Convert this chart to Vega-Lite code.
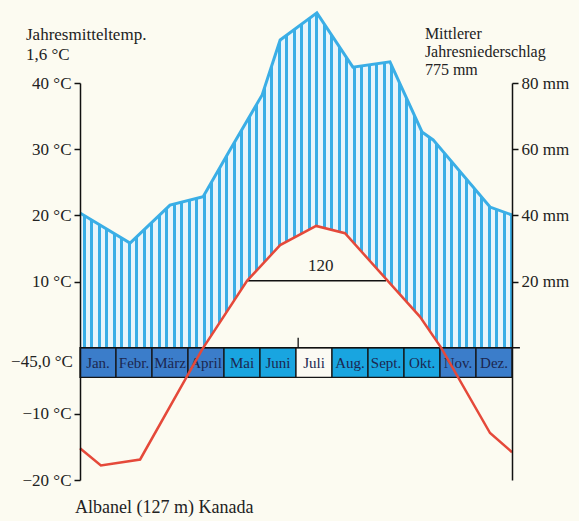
{
"$schema":"https://vega.github.io/schema/vega-lite/v6.json",
"width":432,"height":397,
"autosize":"none",
"padding":{"left":80,"top":83,"right":67,"bottom":41},
"background":"#fcfbf1",
"config":{"view":{"stroke":null},"font":"Liberation Serif","text":{"font":"Liberation Serif","color":"#222"}},
"datasets":{
"temp":[{"m":0,"t":-15.2},{"m":0.58,"t":-17.8},{"m":1.67,"t":-16.9},{"m":3.39,"t":-0.3},{"m":4.64,"t":10.1},{"m":5.56,"t":15.5},{"m":6.56,"t":18.4},{"m":7.36,"t":17.3},{"m":9.44,"t":4.7},{"m":10.03,"t":0},{"m":11.39,"t":-12.9},{"m":12,"t":-15.8}],
"precip":[{"m":0,"p":40.7},{"m":1.39,"p":31.6},{"m":2.5,"p":43.1},{"m":3.42,"p":45.6},{"m":4.17,"p":59.8},{"m":5.06,"p":76.4},{"m":5.56,"p":93},{"m":6.58,"p":101.2},{"m":7.58,"p":84.8},{"m":8.61,"p":86.4},{"m":9.5,"p":65.2},{"m":9.81,"p":62.8},{"m":11.39,"p":42.5},{"m":12,"p":40.1}],
"months":[{"month":"Jan.","frost":"dark"},{"month":"Febr.","frost":"dark"},{"month":"März","frost":"dark"},{"month":"April","frost":"dark"},{"month":"Mai","frost":"light"},{"month":"Juni","frost":"light"},{"month":"Juli","frost":"none"},{"month":"Aug.","frost":"light"},{"month":"Sept.","frost":"light"},{"month":"Okt.","frost":"light"},{"month":"Nov.","frost":"dark"},{"month":"Dez.","frost":"dark"}],
"one":[{}]
},
"layer":[
{"data":{"name":"precip"},
"mark":{"type":"area","opacity":1,"fillOpacity":1,"fill":{"gradient":"linear","x1":0,"y1":0,"x2":1,"y2":0,"stops":[
{"offset":0,"color":"#e8f5fb"},
{"offset":0.00648,"color":"#e8f5fb"},{"offset":0.00648,"color":"#3aaee6"},{"offset":0.01343,"color":"#3aaee6"},{"offset":0.01343,"color":"#e8f5fb"},
{"offset":0.02384,"color":"#e8f5fb"},{"offset":0.02384,"color":"#3aaee6"},{"offset":0.03079,"color":"#3aaee6"},{"offset":0.03079,"color":"#e8f5fb"},
{"offset":0.0412,"color":"#e8f5fb"},{"offset":0.0412,"color":"#3aaee6"},{"offset":0.04815,"color":"#3aaee6"},{"offset":0.04815,"color":"#e8f5fb"},
{"offset":0.05856,"color":"#e8f5fb"},{"offset":0.05856,"color":"#3aaee6"},{"offset":0.06551,"color":"#3aaee6"},{"offset":0.06551,"color":"#e8f5fb"},
{"offset":0.07593,"color":"#e8f5fb"},{"offset":0.07593,"color":"#3aaee6"},{"offset":0.08287,"color":"#3aaee6"},{"offset":0.08287,"color":"#e8f5fb"},
{"offset":0.09329,"color":"#e8f5fb"},{"offset":0.09329,"color":"#3aaee6"},{"offset":0.10023,"color":"#3aaee6"},{"offset":0.10023,"color":"#e8f5fb"},
{"offset":0.11065,"color":"#e8f5fb"},{"offset":0.11065,"color":"#3aaee6"},{"offset":0.11759,"color":"#3aaee6"},{"offset":0.11759,"color":"#e8f5fb"},
{"offset":0.12801,"color":"#e8f5fb"},{"offset":0.12801,"color":"#3aaee6"},{"offset":0.13495,"color":"#3aaee6"},{"offset":0.13495,"color":"#e8f5fb"},
{"offset":0.14537,"color":"#e8f5fb"},{"offset":0.14537,"color":"#3aaee6"},{"offset":0.15231,"color":"#3aaee6"},{"offset":0.15231,"color":"#e8f5fb"},
{"offset":0.16273,"color":"#e8f5fb"},{"offset":0.16273,"color":"#3aaee6"},{"offset":0.16968,"color":"#3aaee6"},{"offset":0.16968,"color":"#e8f5fb"},
{"offset":0.18009,"color":"#e8f5fb"},{"offset":0.18009,"color":"#3aaee6"},{"offset":0.18704,"color":"#3aaee6"},{"offset":0.18704,"color":"#e8f5fb"},
{"offset":0.19745,"color":"#e8f5fb"},{"offset":0.19745,"color":"#3aaee6"},{"offset":0.2044,"color":"#3aaee6"},{"offset":0.2044,"color":"#e8f5fb"},
{"offset":0.21481,"color":"#e8f5fb"},{"offset":0.21481,"color":"#3aaee6"},{"offset":0.22176,"color":"#3aaee6"},{"offset":0.22176,"color":"#e8f5fb"},
{"offset":0.23218,"color":"#e8f5fb"},{"offset":0.23218,"color":"#3aaee6"},{"offset":0.23912,"color":"#3aaee6"},{"offset":0.23912,"color":"#e8f5fb"},
{"offset":0.24954,"color":"#e8f5fb"},{"offset":0.24954,"color":"#3aaee6"},{"offset":0.25648,"color":"#3aaee6"},{"offset":0.25648,"color":"#e8f5fb"},
{"offset":0.2669,"color":"#e8f5fb"},{"offset":0.2669,"color":"#3aaee6"},{"offset":0.27384,"color":"#3aaee6"},{"offset":0.27384,"color":"#e8f5fb"},
{"offset":0.28426,"color":"#e8f5fb"},{"offset":0.28426,"color":"#3aaee6"},{"offset":0.2912,"color":"#3aaee6"},{"offset":0.2912,"color":"#e8f5fb"},
{"offset":0.30162,"color":"#e8f5fb"},{"offset":0.30162,"color":"#3aaee6"},{"offset":0.30856,"color":"#3aaee6"},{"offset":0.30856,"color":"#e8f5fb"},
{"offset":0.31898,"color":"#e8f5fb"},{"offset":0.31898,"color":"#3aaee6"},{"offset":0.32593,"color":"#3aaee6"},{"offset":0.32593,"color":"#e8f5fb"},
{"offset":0.33634,"color":"#e8f5fb"},{"offset":0.33634,"color":"#3aaee6"},{"offset":0.34329,"color":"#3aaee6"},{"offset":0.34329,"color":"#e8f5fb"},
{"offset":0.3537,"color":"#e8f5fb"},{"offset":0.3537,"color":"#3aaee6"},{"offset":0.36065,"color":"#3aaee6"},{"offset":0.36065,"color":"#e8f5fb"},
{"offset":0.37106,"color":"#e8f5fb"},{"offset":0.37106,"color":"#3aaee6"},{"offset":0.37801,"color":"#3aaee6"},{"offset":0.37801,"color":"#e8f5fb"},
{"offset":0.38843,"color":"#e8f5fb"},{"offset":0.38843,"color":"#3aaee6"},{"offset":0.39537,"color":"#3aaee6"},{"offset":0.39537,"color":"#e8f5fb"},
{"offset":0.40579,"color":"#e8f5fb"},{"offset":0.40579,"color":"#3aaee6"},{"offset":0.41273,"color":"#3aaee6"},{"offset":0.41273,"color":"#e8f5fb"},
{"offset":0.42315,"color":"#e8f5fb"},{"offset":0.42315,"color":"#3aaee6"},{"offset":0.43009,"color":"#3aaee6"},{"offset":0.43009,"color":"#e8f5fb"},
{"offset":0.44051,"color":"#e8f5fb"},{"offset":0.44051,"color":"#3aaee6"},{"offset":0.44745,"color":"#3aaee6"},{"offset":0.44745,"color":"#e8f5fb"},
{"offset":0.45787,"color":"#e8f5fb"},{"offset":0.45787,"color":"#3aaee6"},{"offset":0.46481,"color":"#3aaee6"},{"offset":0.46481,"color":"#e8f5fb"},
{"offset":0.47523,"color":"#e8f5fb"},{"offset":0.47523,"color":"#3aaee6"},{"offset":0.48218,"color":"#3aaee6"},{"offset":0.48218,"color":"#e8f5fb"},
{"offset":0.49259,"color":"#e8f5fb"},{"offset":0.49259,"color":"#3aaee6"},{"offset":0.49954,"color":"#3aaee6"},{"offset":0.49954,"color":"#e8f5fb"},
{"offset":0.50995,"color":"#e8f5fb"},{"offset":0.50995,"color":"#3aaee6"},{"offset":0.5169,"color":"#3aaee6"},{"offset":0.5169,"color":"#e8f5fb"},
{"offset":0.52731,"color":"#e8f5fb"},{"offset":0.52731,"color":"#3aaee6"},{"offset":0.53426,"color":"#3aaee6"},{"offset":0.53426,"color":"#e8f5fb"},
{"offset":0.54468,"color":"#e8f5fb"},{"offset":0.54468,"color":"#3aaee6"},{"offset":0.55162,"color":"#3aaee6"},{"offset":0.55162,"color":"#e8f5fb"},
{"offset":0.56204,"color":"#e8f5fb"},{"offset":0.56204,"color":"#3aaee6"},{"offset":0.56898,"color":"#3aaee6"},{"offset":0.56898,"color":"#e8f5fb"},
{"offset":0.5794,"color":"#e8f5fb"},{"offset":0.5794,"color":"#3aaee6"},{"offset":0.58634,"color":"#3aaee6"},{"offset":0.58634,"color":"#e8f5fb"},
{"offset":0.59676,"color":"#e8f5fb"},{"offset":0.59676,"color":"#3aaee6"},{"offset":0.6037,"color":"#3aaee6"},{"offset":0.6037,"color":"#e8f5fb"},
{"offset":0.61412,"color":"#e8f5fb"},{"offset":0.61412,"color":"#3aaee6"},{"offset":0.62106,"color":"#3aaee6"},{"offset":0.62106,"color":"#e8f5fb"},
{"offset":0.63148,"color":"#e8f5fb"},{"offset":0.63148,"color":"#3aaee6"},{"offset":0.63843,"color":"#3aaee6"},{"offset":0.63843,"color":"#e8f5fb"},
{"offset":0.64884,"color":"#e8f5fb"},{"offset":0.64884,"color":"#3aaee6"},{"offset":0.65579,"color":"#3aaee6"},{"offset":0.65579,"color":"#e8f5fb"},
{"offset":0.6662,"color":"#e8f5fb"},{"offset":0.6662,"color":"#3aaee6"},{"offset":0.67315,"color":"#3aaee6"},{"offset":0.67315,"color":"#e8f5fb"},
{"offset":0.68356,"color":"#e8f5fb"},{"offset":0.68356,"color":"#3aaee6"},{"offset":0.69051,"color":"#3aaee6"},{"offset":0.69051,"color":"#e8f5fb"},
{"offset":0.70093,"color":"#e8f5fb"},{"offset":0.70093,"color":"#3aaee6"},{"offset":0.70787,"color":"#3aaee6"},{"offset":0.70787,"color":"#e8f5fb"},
{"offset":0.71829,"color":"#e8f5fb"},{"offset":0.71829,"color":"#3aaee6"},{"offset":0.72523,"color":"#3aaee6"},{"offset":0.72523,"color":"#e8f5fb"},
{"offset":0.73565,"color":"#e8f5fb"},{"offset":0.73565,"color":"#3aaee6"},{"offset":0.74259,"color":"#3aaee6"},{"offset":0.74259,"color":"#e8f5fb"},
{"offset":0.75301,"color":"#e8f5fb"},{"offset":0.75301,"color":"#3aaee6"},{"offset":0.75995,"color":"#3aaee6"},{"offset":0.75995,"color":"#e8f5fb"},
{"offset":0.77037,"color":"#e8f5fb"},{"offset":0.77037,"color":"#3aaee6"},{"offset":0.77731,"color":"#3aaee6"},{"offset":0.77731,"color":"#e8f5fb"},
{"offset":0.78773,"color":"#e8f5fb"},{"offset":0.78773,"color":"#3aaee6"},{"offset":0.79468,"color":"#3aaee6"},{"offset":0.79468,"color":"#e8f5fb"},
{"offset":0.80509,"color":"#e8f5fb"},{"offset":0.80509,"color":"#3aaee6"},{"offset":0.81204,"color":"#3aaee6"},{"offset":0.81204,"color":"#e8f5fb"},
{"offset":0.82245,"color":"#e8f5fb"},{"offset":0.82245,"color":"#3aaee6"},{"offset":0.8294,"color":"#3aaee6"},{"offset":0.8294,"color":"#e8f5fb"},
{"offset":0.83981,"color":"#e8f5fb"},{"offset":0.83981,"color":"#3aaee6"},{"offset":0.84676,"color":"#3aaee6"},{"offset":0.84676,"color":"#e8f5fb"},
{"offset":0.85718,"color":"#e8f5fb"},{"offset":0.85718,"color":"#3aaee6"},{"offset":0.86412,"color":"#3aaee6"},{"offset":0.86412,"color":"#e8f5fb"},
{"offset":0.87454,"color":"#e8f5fb"},{"offset":0.87454,"color":"#3aaee6"},{"offset":0.88148,"color":"#3aaee6"},{"offset":0.88148,"color":"#e8f5fb"},
{"offset":0.8919,"color":"#e8f5fb"},{"offset":0.8919,"color":"#3aaee6"},{"offset":0.89884,"color":"#3aaee6"},{"offset":0.89884,"color":"#e8f5fb"},
{"offset":0.90926,"color":"#e8f5fb"},{"offset":0.90926,"color":"#3aaee6"},{"offset":0.9162,"color":"#3aaee6"},{"offset":0.9162,"color":"#e8f5fb"},
{"offset":0.92662,"color":"#e8f5fb"},{"offset":0.92662,"color":"#3aaee6"},{"offset":0.93356,"color":"#3aaee6"},{"offset":0.93356,"color":"#e8f5fb"},
{"offset":0.94398,"color":"#e8f5fb"},{"offset":0.94398,"color":"#3aaee6"},{"offset":0.95093,"color":"#3aaee6"},{"offset":0.95093,"color":"#e8f5fb"},
{"offset":0.96134,"color":"#e8f5fb"},{"offset":0.96134,"color":"#3aaee6"},{"offset":0.96829,"color":"#3aaee6"},{"offset":0.96829,"color":"#e8f5fb"},
{"offset":0.9787,"color":"#e8f5fb"},{"offset":0.9787,"color":"#3aaee6"},{"offset":0.98565,"color":"#3aaee6"},{"offset":0.98565,"color":"#e8f5fb"},
{"offset":0.99606,"color":"#e8f5fb"},{"offset":0.99606,"color":"#3aaee6"},{"offset":1,"color":"#3aaee6"}
]}},
"encoding":{
"x":{"field":"m","type":"quantitative","scale":{"domain":[0,12],"nice":false,"zero":false},"axis":null},
"y":{"field":"p","type":"quantitative","scale":{"domain":[-40,80],"nice":false,"zero":false},
"axis":{"orient":"right","zindex":1,"values":[20,40,60,80],"labelExpr":"datum.value + ' mm'","title":null,"grid":false,"domainColor":"#111","domainWidth":1.5,"tickColor":"#111","tickWidth":1.5,"tickSize":6,"labelFont":"Liberation Serif","labelFontSize":17,"labelColor":"#222","labelPadding":3,"labelFlush":false,"labelOverlap":false}},
"y2":{"datum":0}}},
{"data":{"name":"precip"},
"mark":{"type":"line","color":"#3aaee6","strokeWidth":3},
"encoding":{
"x":{"field":"m","type":"quantitative","scale":{"domain":[0,12],"nice":false,"zero":false},"axis":null},
"y":{"field":"p","type":"quantitative","scale":{"domain":[-40,80],"nice":false,"zero":false},"axis":null}}},
{"data":{"name":"temp"},
"mark":{"type":"area","fill":"#fcfbf1","opacity":1,"fillOpacity":1},
"encoding":{
"x":{"field":"m","type":"quantitative","scale":{"domain":[0,12],"nice":false,"zero":false},"axis":null},
"y":{"field":"t","type":"quantitative","scale":{"domain":[-20,40],"nice":false,"zero":false},
"axis":{"orient":"left","zindex":1,"values":[-20,-10,10,20,30,40],"labelExpr":"(datum.value < 0 ? '−' + abs(datum.value) : datum.value) + ' °C'","title":null,"grid":false,"domainColor":"#111","domainWidth":1.5,"tickColor":"#111","tickWidth":1.5,"tickSize":6,"labelFont":"Liberation Serif","labelFontSize":17,"labelColor":"#222","labelPadding":3,"labelFlush":false,"labelOverlap":false}},
"y2":{"datum":0}}},
{"data":{"name":"months"},
"mark":{"type":"rect","stroke":"#151515","strokeWidth":1.3},
"encoding":{
"x":{"field":"month","type":"nominal","sort":null,"scale":{"type":"band","paddingInner":0,"paddingOuter":0},"axis":null},
"y":{"datum":0,"type":"quantitative","scale":{"domain":[-20,40],"nice":false,"zero":false},"axis":null},
"y2":{"datum":-4.5},
"fill":{"field":"frost","type":"nominal","scale":{"domain":["dark","light","none"],"range":["#3b7dca","#19a5e0","#fbfaf3"]},"legend":null}}},
{"data":{"name":"months"},
"mark":{"type":"text","fontSize":15,"color":"#1c2750","font":"Liberation Serif"},
"encoding":{
"x":{"field":"month","type":"nominal","sort":null,"scale":{"type":"band","paddingInner":0,"paddingOuter":0},"axis":null},
"y":{"datum":-2.25,"type":"quantitative","scale":{"domain":[-20,40],"nice":false,"zero":false},"axis":null},
"text":{"field":"month"}}},
{"data":{"name":"one"},
"mark":{"type":"rule","color":"#111","strokeWidth":1.5},
"encoding":{"x":{"datum":0,"type":"quantitative","scale":{"domain":[0,12],"nice":false,"zero":false},"axis":null},"x2":{"datum":12.22},
"y":{"datum":0,"type":"quantitative","scale":{"domain":[-20,40],"nice":false,"zero":false},"axis":null}}},
{"data":{"name":"one"},
"mark":{"type":"rule","color":"#111","strokeWidth":1.3},
"encoding":{"x":{"datum":6.06,"type":"quantitative","scale":{"domain":[0,12],"nice":false,"zero":false},"axis":null},
"y":{"datum":0,"type":"quantitative","scale":{"domain":[-20,40],"nice":false,"zero":false},"axis":null},"y2":{"datum":1.5}}},
{"data":{"name":"one"},
"mark":{"type":"rule","color":"#111","strokeWidth":1.5},
"encoding":{"x":{"datum":4.64,"type":"quantitative","scale":{"domain":[0,12],"nice":false,"zero":false},"axis":null},"x2":{"datum":8.5},
"y":{"datum":10.1,"type":"quantitative","scale":{"domain":[-20,40],"nice":false,"zero":false},"axis":null}}},
{"data":{"name":"one"},
"mark":{"type":"text","text":"120","fontSize":17,"align":"center","baseline":"middle"},
"encoding":{"x":{"datum":6.69,"type":"quantitative","scale":{"domain":[0,12],"nice":false,"zero":false},"axis":null},
"y":{"datum":12.3,"type":"quantitative","scale":{"domain":[-20,40],"nice":false,"zero":false},"axis":null}}},
{"data":{"name":"temp"},
"mark":{"type":"line","color":"#e5493a","strokeWidth":2.5},
"encoding":{"x":{"field":"m","type":"quantitative","scale":{"domain":[0,12],"nice":false,"zero":false},"axis":null},
"y":{"field":"t","type":"quantitative","scale":{"domain":[-20,40],"nice":false,"zero":false},"axis":null}}},
{"data":{"name":"one"},
"mark":{"type":"text","text":"−45,0 °C","fontSize":17,"align":"right","baseline":"middle"},
"encoding":{"x":{"datum":-0.2,"type":"quantitative","scale":{"domain":[0,12],"nice":false,"zero":false},"axis":null},
"y":{"datum":-2.2,"type":"quantitative","scale":{"domain":[-20,40],"nice":false,"zero":false},"axis":null}}},
{"data":{"name":"one"},
"mark":{"type":"text","text":"Jahresmitteltemp.","fontSize":17,"align":"left","baseline":"middle"},
"encoding":{"x":{"datum":-1.5,"type":"quantitative","scale":{"domain":[0,12],"nice":false,"zero":false},"axis":null},
"y":{"datum":47.3,"type":"quantitative","scale":{"domain":[-20,40],"nice":false,"zero":false},"axis":null}}},
{"data":{"name":"one"},
"mark":{"type":"text","text":"1,6 °C","fontSize":17,"align":"left","baseline":"middle"},
"encoding":{"x":{"datum":-1.5,"type":"quantitative","scale":{"domain":[0,12],"nice":false,"zero":false},"axis":null},
"y":{"datum":44.2,"type":"quantitative","scale":{"domain":[-20,40],"nice":false,"zero":false},"axis":null}}},
{"data":{"name":"one"},
"mark":{"type":"text","text":"Mittlerer","fontSize":16,"align":"left","baseline":"middle"},
"encoding":{"x":{"datum":9.58,"type":"quantitative","scale":{"domain":[0,12],"nice":false,"zero":false},"axis":null},
"y":{"datum":47.4,"type":"quantitative","scale":{"domain":[-20,40],"nice":false,"zero":false},"axis":null}}},
{"data":{"name":"one"},
"mark":{"type":"text","text":"Jahresniederschlag","fontSize":16,"align":"left","baseline":"middle"},
"encoding":{"x":{"datum":9.58,"type":"quantitative","scale":{"domain":[0,12],"nice":false,"zero":false},"axis":null},
"y":{"datum":44.7,"type":"quantitative","scale":{"domain":[-20,40],"nice":false,"zero":false},"axis":null}}},
{"data":{"name":"one"},
"mark":{"type":"text","text":"775 mm","fontSize":16,"align":"left","baseline":"middle"},
"encoding":{"x":{"datum":9.58,"type":"quantitative","scale":{"domain":[0,12],"nice":false,"zero":false},"axis":null},
"y":{"datum":41.9,"type":"quantitative","scale":{"domain":[-20,40],"nice":false,"zero":false},"axis":null}}},
{"data":{"name":"one"},
"mark":{"type":"text","text":"Albanel (127 m) Kanada","fontSize":18,"align":"left","baseline":"middle"},
"encoding":{"x":{"datum":-0.14,"type":"quantitative","scale":{"domain":[0,12],"nice":false,"zero":false},"axis":null},
"y":{"datum":-24.24,"type":"quantitative","scale":{"domain":[-20,40],"nice":false,"zero":false},"axis":null}}}
],
"resolve":{"scale":{"x":"independent","y":"independent"}}
}
